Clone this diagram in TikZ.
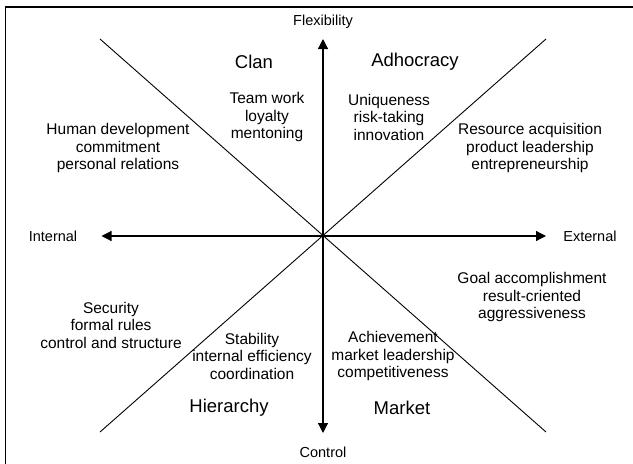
\documentclass[tikz,border=0pt]{standalone}
\usepackage{fontspec}
\setmainfont{Liberation Sans}
\usetikzlibrary{arrows.meta}
\begin{document}
\begin{tikzpicture}[x=1pt,y=-1pt,
  axis/.style={line width=1.2pt,-{Triangle[length=10pt,width=10pt]}},
  diag/.style={line width=0.9pt},
  body/.style={align=center,inner sep=0pt,font=\fontsize{15.5}{17.5}\selectfont},
  title/.style={inner sep=0pt,font=\fontsize{18.5}{21}\selectfont},
  lab/.style={inner sep=0pt,font=\fontsize{14.5}{17.5}\selectfont}]
\useasboundingbox (0,0) rectangle (633,464);
\clip (0,0) rectangle (633,464);
\draw[line width=1.4pt] (5.7,7) rectangle (660,490);
% centre and ends
\coordinate (O) at (323,236);
\coordinate (TL) at (100,39);
\coordinate (TR) at (546,39);
\coordinate (BL) at (100,432);
\coordinate (BR) at (546,432);
\coordinate (N) at (323,39);
\coordinate (S) at (323,433);
\coordinate (W) at (101.5,236);
\coordinate (E) at (546,236);
\draw[diag] (TL) -- (BR);
\draw[diag] (TR) -- (BL);
\draw[axis] (O) -- (N);
\draw[axis] (O) -- (S);
\draw[axis] (O) -- (W);
\draw[axis] (O) -- (E);
% axis labels
\node[lab] (flex) at (323,22) {Flexibility};
\node[lab] (ctrl) at (323,452) {Control};
\node[lab] (int) at (53,236) {Internal};
\node[lab] (ext) at (590,236) {External};
% titles
\node[title] (clan) at (254,62) {Clan};
\node[title] (adho) at (415,62) {Adhocracy};
\node[title] (hier) at (229,408) {Hierarchy};
\node[title] (mark) at (402,408) {Market};
% bodies
\node[body] (clanb) at (267,117) {Team work\\loyalty\\mentoning};
\node[body] (adhob) at (389,117) {Uniqueness\\risk-taking\\innovation};
\node[body] (hum) at (118,148) {Human development\\commitment\\personal relations};
\node[body] (res) at (530,148) {Resource acquisition\\product leadership\\entrepreneurship};
\node[body] (sec) at (111,325) {Security\\formal rules\\control and structure};
\node[body] (goal) at (532,297) {Goal accomplishment\\result-criented\\aggressiveness};
\node[body] (stab) at (252,356) {Stability\\internal efficiency\\coordination};
\node[body] (ach) at (393,356) {Achievement\\market leadership\\competitiveness};
\end{tikzpicture}
\end{document}
